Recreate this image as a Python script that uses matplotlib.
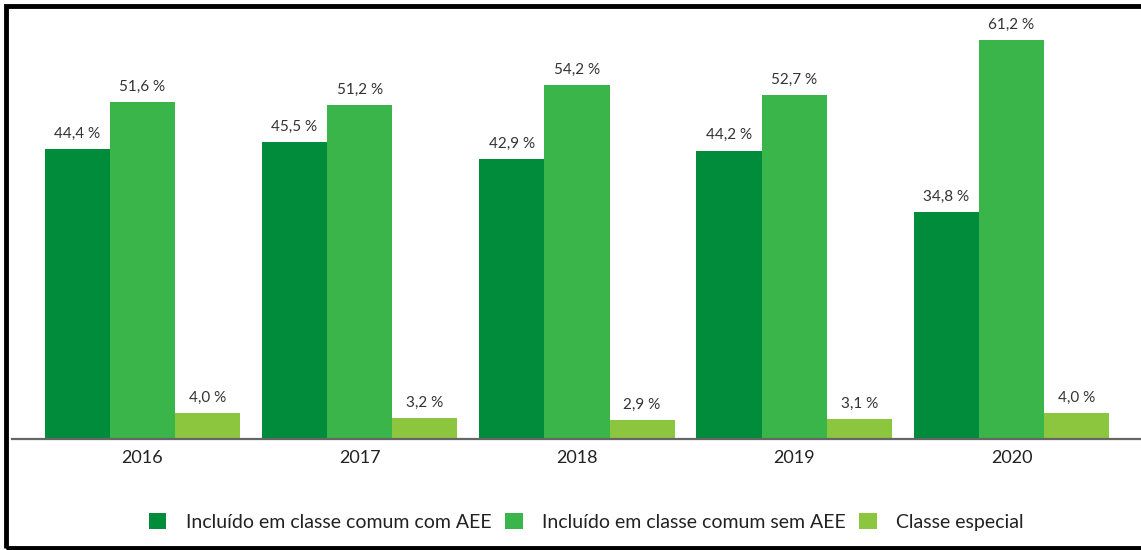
import matplotlib.pyplot as plt
import numpy as np
from matplotlib.patches import Rectangle

years = ['2016', '2017', '2018', '2019', '2020']
com_aee = [44.4, 45.5, 42.9, 44.2, 34.8]
sem_aee = [51.6, 51.2, 54.2, 52.7, 61.2]
especial = [4.0, 3.2, 2.9, 3.1, 4.0]
series_names = ['Incluído em classe comum com AEE',
                'Incluído em classe comum sem AEE',
                'Classe especial']
colors = ['#008C3A', '#3AB54A', '#8CC63F']

plt.rcParams['font.family'] = ['Lato', 'DejaVu Sans']

fig = plt.figure(figsize=(11.41, 5.50), dpi=100)
ax = fig.add_axes([12 / 1141, 1 - 439 / 550, 1129 / 1141, (439 - 15) / 550])

x = np.arange(len(years))
w = 0.3
for k, (vals, name, col) in enumerate(zip([com_aee, sem_aee, especial], series_names, colors)):
    pos = x + (k - 1) * w
    ax.bar(pos, vals, width=w, color=col, label=name, zorder=2)
    for p, v in zip(pos, vals):
        ax.annotate(f'{v:.1f} %'.replace('.', ','), (p, v), xytext=(0, 6),
                    textcoords='offset points', ha='center', va='bottom',
                    fontsize=11, color='#333333')

ax.set_xlim(-0.6, 4.596)
ax.set_ylim(0, 65)
ax.set_xticks(x)
ax.set_xticklabels(years, fontsize=13, color='#222222')
ax.tick_params(axis='x', length=0, pad=8)
ax.set_yticks([])
for s in ['top', 'right', 'left']:
    ax.spines[s].set_visible(False)
ax.spines['bottom'].set_color('#666666')
ax.spines['bottom'].set_linewidth(1.6)

fig.legend(loc='center', bbox_to_anchor=(0.514, 1 - 522 / 550), ncol=3, frameon=False,
           fontsize=14, handlelength=0.9, handleheight=0.9, handletextpad=1.0,
           columnspacing=0.7, labelcolor='#222222')

fig.patches.append(Rectangle((6 / 1141, 2 / 550), 1.0, 1 - 8 / 550,
                             transform=fig.transFigure, fill=False,
                             edgecolor='black', linewidth=3.5))

fig.savefig('out.png', dpi=100)
